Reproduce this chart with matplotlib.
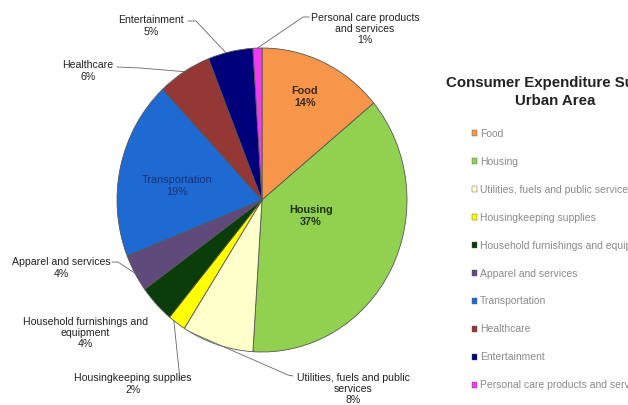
import numpy as np
import matplotlib
matplotlib.use('Agg')
import matplotlib.pyplot as plt

plt.rcParams['font.family'] = ['Liberation Sans', 'DejaVu Sans']

categories = ['Food', 'Housing', 'Utilities, fuels and public services',
              'Housingkeeping supplies', 'Household furnishings and equipment',
              'Apparel and services', 'Transportation', 'Healthcare',
              'Entertainment', 'Personal care products and services']
shares = [14, 37, 8, 2, 4, 4, 19, 6, 5, 1]
colors = ['#f7964a', '#92d050', '#ffffcc', '#ffff00', '#0b3d0b',
          '#604a7b', '#1f6ad2', '#953735', '#00007a', '#f03cf0']

# slice labels, with line breaks as in the chart
slice_labels = ['Food', 'Housing', 'Utilities, fuels and public\nservices',
                'Housingkeeping supplies', 'Household furnishings and\nequipment',
                'Apparel and services', 'Transportation', 'Healthcare',
                'Entertainment', 'Personal care products\nand services']

W, H = 628, 405
fig = plt.figure(figsize=(W / 100, H / 100), dpi=100)
ax = fig.add_axes([0, 0, 1, 1])

# pie is a bit squashed horizontally in the original
cx, cy, rx, ry = 262, 200, 145, 152

def P(px, py):
    # pixel (from top-left) -> data coords of the unit pie
    return (px - cx) / rx, (cy - py) / ry

wedges, _ = ax.pie(shares, colors=colors, startangle=90, counterclock=False,
                   wedgeprops=dict(edgecolor='#555555', linewidth=0.6))
ax.set_aspect('auto')
ax.set_xlim(-cx / rx, (W - cx) / rx)
ax.set_ylim((cy - H) / ry, cy / ry)
ax.axis('off')

def edge_point(w, frac=0.5):
    a = np.deg2rad(w.theta1 + (w.theta2 - w.theta1) * frac)
    return np.cos(a), np.sin(a)

# labels inside the pie
inside = {0: (305, 97, '#3a2a1a', 'bold'), 1: (311, 216, '#1e3010', 'bold'),
          6: (177, 186, '#14357a', 'normal')}
for i, (x, y, c, fw) in inside.items():
    ax.text(*P(x, y), '%s\n%d%%' % (slice_labels[i], shares[i]), ha='center', va='center',
            fontsize=7.8, fontweight=fw, color=c, linespacing=1.15)

# labels outside with leader lines: text pos, elbow points, anchor fraction on the wedge
outside = {
    8: ((151, 26), [(188, 21), (196, 21)], 0.6),
    9: ((365, 29), [(309, 17), (303, 17)], 0.5),
    7: ((88, 71), [(117, 67), (140, 68)], 0.5),
    5: ((61, 268), [(112, 262), (118, 262)], 0.5),
    4: ((85, 333), None, 0.5),
    3: ((133, 384), [(180, 380)], 0.3),
    2: ((353, 389), [(293, 376), (288, 375)], 0.1),
}
for i, ((tx, ty), pts, frac) in outside.items():
    ax.text(*P(tx, ty), '%s\n%d%%' % (slice_labels[i], shares[i]), ha='center', va='center',
            fontsize=7.6, color='#222222', linespacing=1.15)
    if pts is not None:
        ex, ey = edge_point(wedges[i], frac)
        line = [P(*p) for p in pts] + [(ex, ey)]
        ax.plot([p[0] for p in line], [p[1] for p in line], color='#666666', lw=0.6)

# title (runs off the right edge in the original)
ax.text(*P(555, 92), 'Consumer Expenditure Survey\nUrban Area', ha='center', va='center',
        fontsize=10.8, fontweight='bold', color='#222222', linespacing=1.35)

leg = fig.legend(wedges, categories, loc='upper left',
                 bbox_to_anchor=(472 / W, 1 - 129 / H), frameon=False,
                 fontsize=7.5, labelcolor='#8a8a8a', labelspacing=1.72,
                 handlelength=0.5, handleheight=0.5, handletextpad=0.25,
                 borderpad=0, borderaxespad=0)
for h in leg.legend_handles:
    h.set_linewidth(0.3)

fig.savefig('out.png', dpi=100, facecolor='white')
